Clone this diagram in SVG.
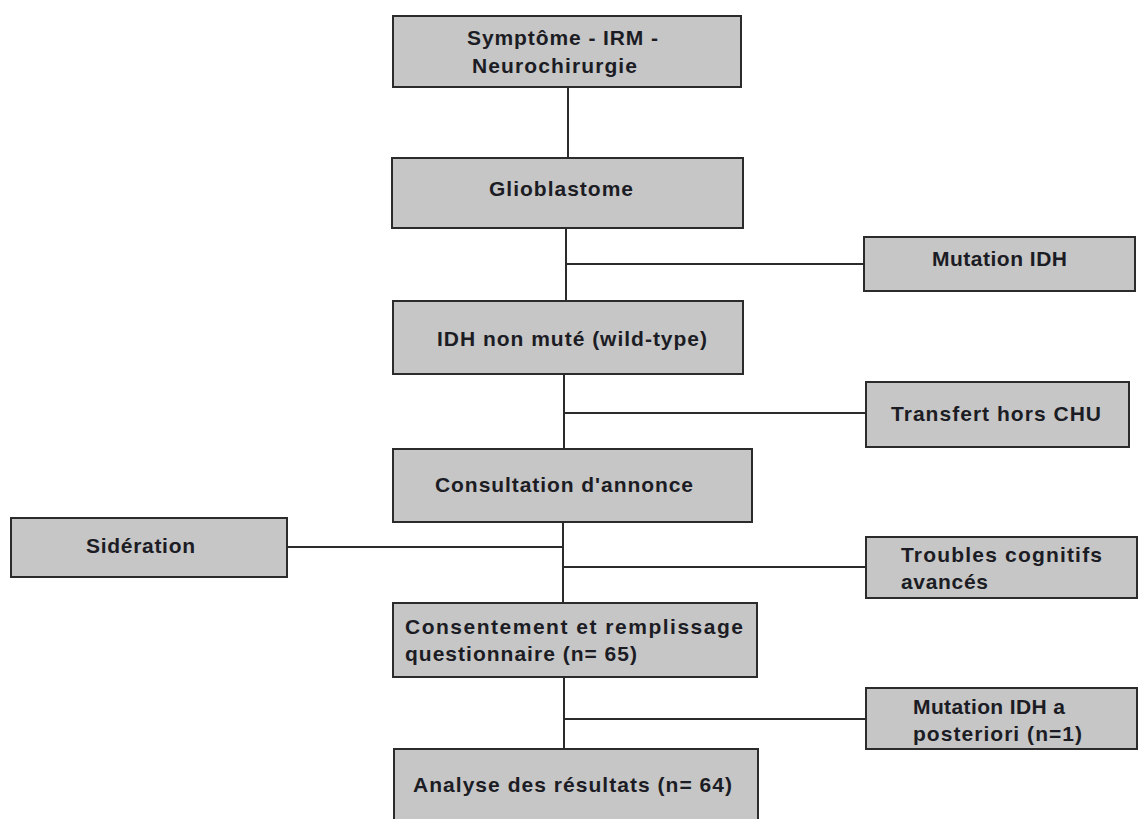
<svg xmlns="http://www.w3.org/2000/svg" width="1139" height="819" viewBox="0 0 1139 819">
<style>
.box{fill:#c6c6c6;stroke:#2b2b2b;stroke-width:2}
.t{font-family:"Liberation Sans",Arial,sans-serif;font-weight:bold;font-size:21px;fill:#1c1c24}
.c{stroke:#2b2b2b;stroke-width:2;fill:none}
</style>
<rect width="1139" height="819" fill="#ffffff"/>
<g id="connectors">
<line class="c" x1="568" y1="87" x2="568" y2="158"/>
<line class="c" x1="566" y1="228" x2="566" y2="301"/>
<line class="c" x1="566" y1="264" x2="864" y2="264"/>
<line class="c" x1="564" y1="374" x2="564" y2="449"/>
<line class="c" x1="564" y1="413" x2="866" y2="413"/>
<line class="c" x1="563" y1="522" x2="563" y2="603"/>
<line class="c" x1="287" y1="547" x2="563" y2="547"/>
<line class="c" x1="563" y1="567" x2="866" y2="567"/>
<line class="c" x1="564" y1="677" x2="564" y2="749"/>
<line class="c" x1="564" y1="719" x2="866" y2="719"/>
</g>
<g id="n1"><rect class="box" x="393" y="16" width="348" height="71"/>
<text class="t" x="467" y="45" textLength="191" lengthAdjust="spacing">Symptôme - IRM -</text>
<text class="t" x="472" y="73" textLength="165" lengthAdjust="spacing">Neurochirurgie</text></g>
<g id="n2"><rect class="box" x="392" y="158" width="351" height="70"/>
<text class="t" x="489" y="196" textLength="144" lengthAdjust="spacing">Glioblastome</text></g>
<g id="n3"><rect class="box" x="393" y="301" width="350" height="73"/>
<text class="t" x="437" y="346" textLength="270" lengthAdjust="spacing">IDH non muté (wild-type)</text></g>
<g id="n4"><rect class="box" x="393" y="449" width="359" height="73"/>
<text class="t" x="435" y="492" textLength="258" lengthAdjust="spacing">Consultation d'annonce</text></g>
<g id="n5"><rect class="box" x="393" y="603" width="364" height="74"/>
<text class="t" x="405" y="634" textLength="338" lengthAdjust="spacing">Consentement et remplissage</text>
<text class="t" x="405" y="661" textLength="232" lengthAdjust="spacing">questionnaire (n= 65)</text></g>
<g id="n6"><rect class="box" x="394" y="749" width="364" height="80"/>
<text class="t" x="413" y="792" textLength="319" lengthAdjust="spacing">Analyse des résultats (n= 64)</text></g>
<g id="e1"><rect class="box" x="864" y="237" width="271" height="54"/>
<text class="t" x="932" y="266" textLength="135" lengthAdjust="spacing">Mutation IDH</text></g>
<g id="e2"><rect class="box" x="866" y="382" width="263" height="65"/>
<text class="t" x="891" y="421" textLength="210" lengthAdjust="spacing">Transfert hors CHU</text></g>
<g id="e3"><rect class="box" x="11" y="518" width="276" height="59"/>
<text class="t" x="86" y="553" textLength="109" lengthAdjust="spacing">Sidération</text></g>
<g id="e4"><rect class="box" x="866" y="537" width="271" height="61"/>
<text class="t" x="901" y="562" textLength="201" lengthAdjust="spacing">Troubles cognitifs</text>
<text class="t" x="901" y="589" textLength="87" lengthAdjust="spacing">avancés</text></g>
<g id="e5"><rect class="box" x="866" y="688" width="271" height="61"/>
<text class="t" x="913" y="714" textLength="152" lengthAdjust="spacing">Mutation IDH a</text>
<text class="t" x="913" y="741" textLength="169" lengthAdjust="spacing">posteriori (n=1)</text></g>
</svg>
